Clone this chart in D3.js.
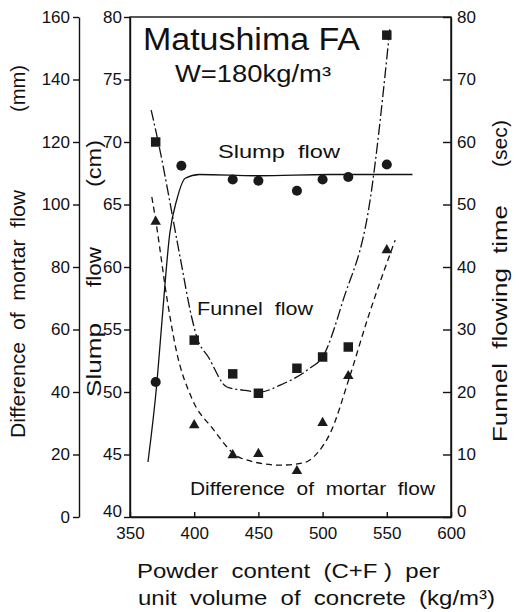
<!DOCTYPE html>
<html lang="en">
<head>
  <meta charset="utf-8">
  <title>Matushima FA</title>
  <script src="https://d3js.org/d3.v7.min.js"></script>
  <style>
    body {
      margin: 0;
      background: #fff;
    }
    svg text {
      font-family: "Liberation Sans", Arial, sans-serif;
      fill: #111;
    }
    .axis path, .axis line {
      stroke: #111;
      stroke-width: 1.4px;
    }
    .axis text {
      font-size: 17px;
    }
    .fit {
      fill: none;
      stroke: #111;
      stroke-width: 1.3px;
    }
  </style>
</head>
<body>
  <div id="chart"></div>
  <script>
    // measured points (x = powder content kg/m3)
    const slumpX = [370, 390, 430, 450, 480, 500, 520, 550];
    const slumpVal = [50.8, 68.1, 67.0, 66.9, 66.1, 67.0, 67.2, 68.2];      // cm

    const funnelX = [370, 400, 430, 450, 480, 500, 520, 550];
    const funnelVal = [60.0, 28.3, 22.9, 19.8, 23.8, 25.6, 27.2, 77.1];     // sec

    const mortarX = [370, 400, 430, 450, 480, 500, 520, 550];
    const mortarVal = [94.5, 29.4, 19.8, 20.2, 14.7, 30.1, 45.1, 85.4];     // mm

    // hand-drawn fitted curves
    const slumpCurveX = [364, 371, 375, 381, 386.5, 393, 404, 450, 506, 570];
    const slumpCurveY = [44.4, 50.8, 55.8, 62.7, 65.4, 67.1, 67.4, 67.3, 67.4, 67.4];

    const funnelCurveX = [366.5, 372, 389, 398, 402, 411, 425.5, 438, 451, 467, 490, 500, 516, 537, 552.5];
    const funnelCurveY = [65.1, 60, 41.6, 32, 28.8, 25.6, 20.8, 20.3, 20, 21.1, 23.8, 25.6, 34.7, 50.7, 78.4];

    const mortarCurveX = [367, 370, 379, 386, 398, 414, 436, 467, 485, 496, 506, 521, 535.5, 556.5];
    const mortarCurveY = [102.4, 95, 69.4, 53.4, 38.1, 28.5, 18.9, 16.6, 17.3, 20.5, 26.9, 44.8, 64, 88.6];

    // tick values
    const xTicks = [350, 400, 450, 500, 550, 600];
    const slumpTicks = [40, 45, 50, 55, 60, 65, 70, 75, 80];
    const mortarTicks = [0, 20, 40, 60, 80, 100, 120, 140, 160];
    const funnelTicks = [0, 10, 20, 30, 40, 50, 60, 70, 80];

    const width = 519, height = 612;
    const plotL = 130, plotR = 451, plotT = 17, plotB = 517;

    const svg = d3.select("#chart").append("svg")
      .attr("width", width)
      .attr("height", height);

    const x = d3.scaleLinear().domain([350, 600]).range([plotL, plotR]);
    const ySlump = d3.scaleLinear().domain([40, 80]).range([plotB, plotT]);
    const yMortar = d3.scaleLinear().domain([0, 160]).range([plotB, plotT]);
    const yFunnel = d3.scaleLinear().domain([0, 80]).range([plotB, plotT]);

    // frame
    svg.append("rect")
      .attr("x", plotL).attr("y", plotT)
      .attr("width", plotR - plotL).attr("height", plotB - plotT)
      .attr("fill", "none")
      .attr("stroke", "#111")
      .attr("stroke-width", 1.4);

    // axes
    svg.append("g").attr("class", "axis")
      .attr("transform", `translate(0,${plotB})`)
      .call(d3.axisBottom(x).tickValues(xTicks).tickSize(-5).tickSizeOuter(0).tickPadding(10));

    const slumpAxis = svg.append("g").attr("class", "axis")
      .attr("transform", `translate(${plotL},0)`)
      .call(d3.axisLeft(ySlump).tickValues(slumpTicks).tickSize(6).tickSizeOuter(0).tickPadding(2));

    svg.append("g").attr("class", "axis")
      .attr("transform", `translate(79,0)`)
      .call(d3.axisLeft(yMortar).tickValues(mortarTicks).tickSize(6).tickSizeOuter(0).tickPadding(3));

    const funnelAxis = svg.append("g").attr("class", "axis")
      .attr("transform", `translate(${plotR},0)`)
      .call(d3.axisRight(yFunnel).tickValues(funnelTicks).tickSize(-8).tickSizeOuter(0).tickPadding(6));

    // bottom-most labels sit a little higher in the original, clear of the x labels
    slumpAxis.selectAll(".tick text").filter(d => d === 40).attr("dy", "-0.05em");
    funnelAxis.selectAll(".tick text").filter(d => d === 0).attr("dy", "-0.05em");

    // fitted curves
    function drawCurve(xs, ys, yScale, dash) {
      const line = d3.line()
        .x(d => x(d[0]))
        .y(d => yScale(d[1]))
        .curve(d3.curveMonotoneX);
      svg.append("path")
        .attr("class", "fit")
        .attr("d", line(xs.map((v, i) => [v, ys[i]])))
        .attr("stroke-dasharray", dash);
    }
    drawCurve(slumpCurveX, slumpCurveY, ySlump, null);
    drawCurve(funnelCurveX, funnelCurveY, yFunnel, "11,3,2,3");
    drawCurve(mortarCurveX, mortarCurveY, yMortar, "6,4");

    // markers
    function drawMarkers(xs, ys, yScale, type, size) {
      svg.append("g").selectAll("path")
        .data(xs.map((v, i) => [v, ys[i]]))
        .join("path")
        .attr("transform", d => `translate(${x(d[0])},${yScale(d[1])})`)
        .attr("d", d3.symbol().type(type).size(size))
        .attr("fill", "#1a1a1a");
    }
    drawMarkers(slumpX, slumpVal, ySlump, d3.symbolCircle, 80);
    drawMarkers(funnelX, funnelVal, yFunnel, d3.symbolSquare, 90);
    drawMarkers(mortarX, mortarVal, yMortar, d3.symbolTriangle, 48);

    // in-plot text
    function label(txt, px, py, size, len) {
      const t = svg.append("text")
        .attr("x", px).attr("y", py)
        .style("font-size", size + "px")
        .style("white-space", "pre")
        .text(txt);
      if (len) t.attr("textLength", len).attr("lengthAdjust", "spacingAndGlyphs");
      return t;
    }
    label("Matushima FA", 143, 50, 31, 217);
    label("W=180kg/m³", 175, 82, 23, 156);
    label("Slump  flow", 218, 158, 18, 122);
    label("Funnel  flow", 197, 315, 18, 116);
    label("Difference  of  mortar  flow", 190, 495, 18, 245);

    // rotated axis titles
    function vlabel(txt, px, py, size, len) {
      svg.append("text")
        .attr("transform", `translate(${px},${py}) rotate(-90)`)
        .style("font-size", size + "px")
        .style("white-space", "pre")
        .attr("textLength", len)
        .attr("lengthAdjust", "spacingAndGlyphs")
        .text(txt);
    }
    vlabel("Difference  of  mortar  flow", 25, 438, 21, 248);
    vlabel("(mm)", 25, 112, 21, 47);
    vlabel("Slump", 101, 397, 20, 74);
    vlabel("flow", 101, 287, 20, 40);
    vlabel("(cm)", 101, 187, 20, 47);
    vlabel("Funnel  flowing  time", 507, 442, 20, 237);
    vlabel("(sec)", 507, 167, 20, 47);

    // x axis title
    label("Powder  content  (C+F )  per", 137, 578, 20, 303);
    label("unit  volume  of  concrete  (kg/m³)", 138, 605, 20, 357);
  </script>
</body>
</html>
